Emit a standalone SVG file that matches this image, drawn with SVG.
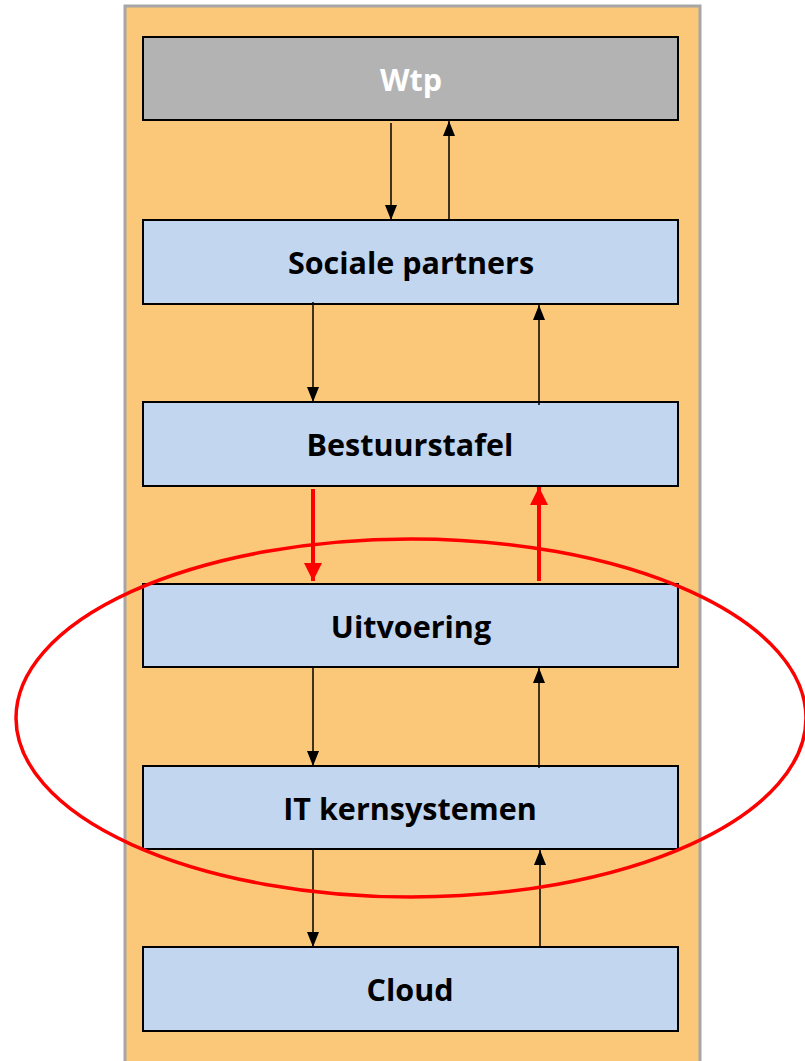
<svg xmlns="http://www.w3.org/2000/svg" width="805" height="1061" viewBox="0 0 805 1061">
<style>
.box{fill:#C2D6F0;stroke:#000;stroke-width:2}
.lbl{font-family:"Open Sans","Liberation Sans",sans-serif;font-weight:bold;font-size:30.5px;text-anchor:middle;fill:#000}
.c{stroke:#000;stroke-width:1.5;fill:none}
.r{stroke:#FF0000;stroke-width:4;fill:none}
</style>
<defs>
<marker id="ah" viewBox="0 0 15 12" refX="15" refY="6" markerWidth="15" markerHeight="12" markerUnits="userSpaceOnUse" orient="auto"><path d="M0,0 L15,6 L0,12 Z" fill="#000"/></marker>
<marker id="rh" viewBox="0 0 18 18" refX="18" refY="9" markerWidth="18" markerHeight="18" markerUnits="userSpaceOnUse" orient="auto"><path d="M0,0 L18,9 L0,18 Z" fill="#FF0000"/></marker>
</defs>
<rect id="bg" x="125" y="6" width="575" height="1060" fill="#FBC879" stroke="#A6A6A6" stroke-width="3"/>
<g id="wtp"><rect x="143" y="37" width="535" height="83" fill="#B3B3B3" stroke="#000" stroke-width="2"/><text class="lbl" x="411" y="91" style="fill:#fff">Wtp</text></g>
<g id="sociale"><rect class="box" x="143" y="220" width="535" height="84"/><text class="lbl" x="411" y="274">Sociale partners</text></g>
<g id="bestuur"><rect class="box" x="143" y="402" width="535" height="84"/><text class="lbl" x="410" y="456">Bestuurstafel</text></g>
<g id="uitvoering"><rect class="box" x="143" y="584" width="535" height="83"/><text class="lbl" x="411" y="638">Uitvoering</text></g>
<g id="it"><rect class="box" x="143" y="766" width="535" height="83"/><text class="lbl" x="410" y="820">IT kernsystemen</text></g>
<g id="cloud"><rect class="box" x="143" y="947" width="535" height="84"/><text class="lbl" x="410" y="1001">Cloud</text></g>
<g id="connectors">
<line class="c" x1="391" y1="123" x2="391" y2="220" marker-end="url(#ah)"/>
<line class="c" x1="449" y1="220" x2="449" y2="121" marker-end="url(#ah)"/>
<line class="c" x1="313" y1="302" x2="313" y2="402" marker-end="url(#ah)"/>
<line class="c" x1="539" y1="405" x2="539" y2="305" marker-end="url(#ah)"/>
<line class="r" x1="313" y1="489" x2="313" y2="581" marker-end="url(#rh)"/>
<line class="r" x1="539" y1="581" x2="539" y2="487" marker-end="url(#rh)"/>
<line class="c" x1="313" y1="668" x2="313" y2="766" marker-end="url(#ah)"/>
<line class="c" x1="539" y1="768" x2="539" y2="668" marker-end="url(#ah)"/>
<line class="c" x1="313" y1="850" x2="313" y2="947" marker-end="url(#ah)"/>
<line class="c" x1="540" y1="947" x2="540" y2="850" marker-end="url(#ah)"/>
</g>
<ellipse id="highlight" cx="411" cy="718" rx="395" ry="179" fill="none" stroke="#FF0000" stroke-width="3.5"/>
</svg>
